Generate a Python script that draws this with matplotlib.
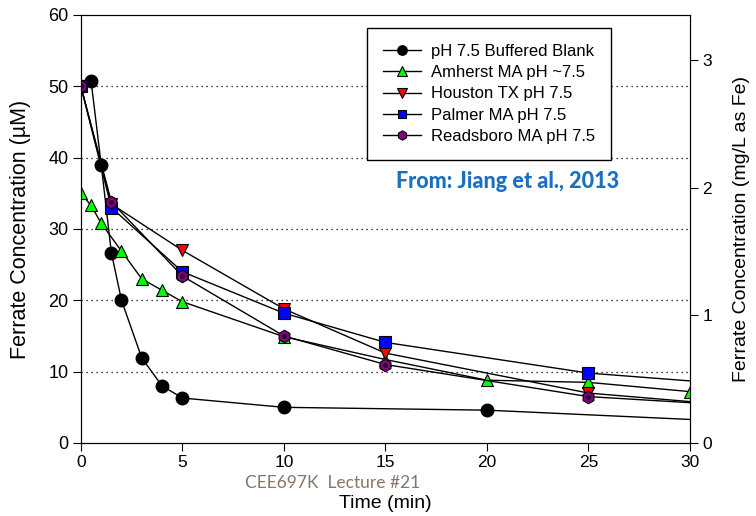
import matplotlib
matplotlib.use('Agg')
import matplotlib.pyplot as plt

plt.rcParams['font.family'] = ['Liberation Sans', 'DejaVu Sans']

# data (time in min, ferrate in uM)
t_blank = [0.5, 1, 1.5, 2, 3, 4, 5, 10, 20, 30]
c_blank = [50.8, 39.0, 26.7, 20.0, 11.9, 8.0, 6.3, 5.0, 4.6, 3.3]

t_amh = [0, 0.5, 1, 2, 3, 4, 5, 10, 15, 20, 25, 30]
c_amh = [35.0, 33.3, 30.8, 26.9, 23.0, 21.4, 19.8, 14.9, 11.7, 8.8, 8.5, 7.2]

t_hou = [0, 1.5, 5, 10, 15, 25, 30]
c_hou = [50.0, 33.5, 27.0, 18.8, 12.6, 7.0, 5.8]

t_pal = [0, 1.5, 5, 10, 15, 25, 30]
c_pal = [50.0, 33.0, 24.0, 18.2, 14.1, 9.8, 8.7]

t_rea = [0, 1.5, 5, 10, 15, 25, 30]
c_rea = [50.0, 33.8, 23.4, 15.0, 11.0, 6.5, 5.65]

UM_PER_MGL = 1000 / 55.845

fig = plt.figure(figsize=(7.56, 5.16), dpi=100)
ax = fig.add_axes([0.107, 0.1415, 0.8057, 0.8295])

ms = 9
lw = 1.0
# last point at 30 min has no marker for most series
ax.plot(t_blank, c_blank, '-o', color='black', mfc='black', mec='black', ms=ms, lw=lw,
        markevery=list(range(len(t_blank) - 1)), label='pH 7.5 Buffered Blank', zorder=3)
ax.plot(t_amh, c_amh, '-^', color='black', mfc='#00ff00', mec='black', ms=ms, lw=lw, mew=0.8,
        label='Amherst MA pH ~7.5', zorder=3)
ax.plot(t_hou, c_hou, '-v', color='black', mfc='#ff0000', mec='black', ms=ms, lw=lw, mew=0.8,
        markevery=list(range(len(t_hou) - 1)), label='Houston TX pH 7.5', zorder=3)
ax.plot(t_pal, c_pal, '-s', color='black', mfc='#0000ff', mec='black', ms=8, lw=lw, mew=0.8,
        markevery=list(range(len(t_pal) - 1)), label='Palmer MA pH 7.5', zorder=3)
ax.plot(t_rea, c_rea, '-h', color='black', mfc='#800080', mec='black', ms=ms, lw=lw, mew=0.8,
        markevery=list(range(len(t_rea) - 1)), label='Readsboro MA pH 7.5', zorder=3)
ax.plot(t_rea[:-1], c_rea[:-1], 'o', color='#2a002a', ms=2.5, zorder=4)

ax.set_xlim(0, 30)
ax.set_ylim(0, 60)
ax.set_xticks(range(0, 31, 5))
ax.set_yticks(range(0, 61, 10))
for yv in range(10, 60, 10):
    ax.axhline(yv, color='black', lw=0.9, ls=(0, (1, 3)), zorder=1)
ax.tick_params(direction='out', length=5.5)
ax.tick_params(axis='x', labelsize=12.5)
ax.tick_params(axis='y', labelsize=13)
ax.set_xlabel('Time (min)', fontsize=14, labelpad=18)
ax.set_ylabel('Ferrate Concentration (\u00b5M)', fontsize=15.5, labelpad=12)

ax2 = ax.twinx()
ax2.set_ylim(0, 60 / UM_PER_MGL)
ax2.set_yticks([0, 1, 2, 3])
ax2.tick_params(direction='out', length=5.5, labelsize=12.5)
ax2.set_ylabel('Ferrate Concentration (mg/L as Fe)', fontsize=14, labelpad=15)

leg = ax.legend(loc='upper left', bbox_to_anchor=(0.4696, 0.9696), borderaxespad=0,
                fontsize=12, markerscale=0.75,
                frameon=True, fancybox=False, edgecolor='black', framealpha=1,
                handlelength=2.3, borderpad=0.95, labelspacing=0.38, handletextpad=0.6)
leg.get_frame().set_linewidth(1.0)
leg.set_zorder(5)

fig.text(0.671, 0.648, 'From: Jiang et al., 2013', color='#1a6fc0', fontsize=15.5,
         fontweight='black', family=['Lato', 'DejaVu Sans'], ha='center', va='center')
fig.text(0.44, 0.064, 'CEE697K  Lecture #21', color='#85756a', fontsize=12.5,
         family=['Lato', 'DejaVu Sans'], ha='center', va='center')

fig.savefig('out.png', dpi=100)
